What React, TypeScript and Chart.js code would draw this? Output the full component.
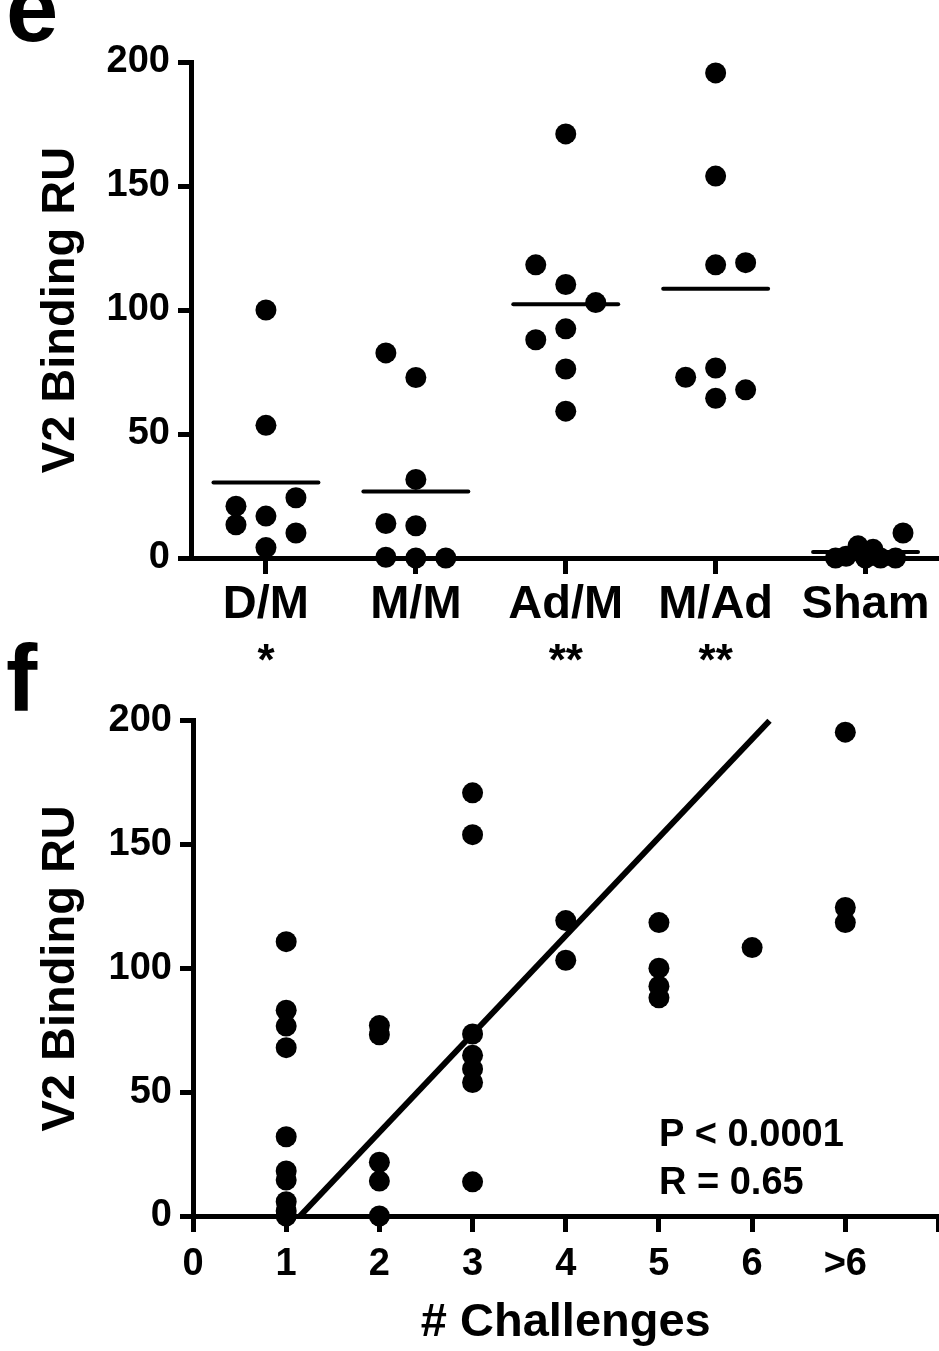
import React, { useEffect, useRef } from "react";
import { Chart, registerables } from "chart.js";

Chart.register(...registerables);

const FONT = "'Liberation Sans', Arial, Helvetica, sans-serif";
const INK = "#000000";

// ---------- panel e : V2 binding by immunisation group ----------
const E_CATEGORIES = ["D/M", "M/M", "Ad/M", "M/Ad", "Sham"];
const E_SIGNIFICANCE = ["*", "", "**", "**", ""];
const E_DM = [100, 53.5, 24.3, 20.9, 16.9, 13.4, 10.1, 4.2];
const E_MM = [82.7, 72.8, 31.7, 13.9, 13.0, 0.3, 0, 0];
const E_ADM = [171, 118.2, 110.3, 103, 92.4, 88, 76.2, 59.2];
const E_MAD = [195.6, 154, 118.2, 119.1, 76.6, 72.9, 67.8, 64.4];
const E_SHAM = [10.1, 4.9, 3.5, 0.7, 0, 0, 0, 0];
// horizontal scatter of the dots inside each column (category units)
const E_DM_SPREAD = [0, 0, 0.2, -0.2, 0, -0.2, 0.2, 0];
const E_MM_SPREAD = [-0.2, 0, 0, -0.2, 0, -0.2, 0, 0.2];
const E_ADM_SPREAD = [0, -0.2, 0, 0.2, 0, -0.2, 0, 0];
const E_MAD_SPREAD = [0, 0, 0, 0.2, 0, -0.2, 0.2, 0];
const E_SHAM_SPREAD = [0.25, -0.05, 0.05, -0.13, -0.2, 0, 0.1, 0.2];
const Y_TICK_STEP = 50;
const Y_MAX = 200;

// ---------- panel f : V2 binding vs number of challenges ----------
const F_TICK_LABELS = ["0", "1", "2", "3", "4", "5", "6", ">6", ""];
const F_CHALLENGES = [1, 2, 3, 4, 5, 6, 7];
const F_C1 = [110.8, 83.1, 76.7, 68, 32, 18.2, 14.5, 5.8, 2, 0];
const F_C2 = [76.9, 73.2, 21.7, 14.1, 0];
const F_C3 = [170.9, 154, 73.5, 64.9, 59.4, 53.9, 13.8];
const F_C4 = [119.3, 103.3];
const F_C5 = [118.5, 100.1, 92.8, 88.1];
const F_C6 = [108.4];
const F_C7 = [195.4, 124.6, 118.5];
const F_FIT_SLOPE = 39.7;
const F_FIT_INTERCEPT = -45.6;
const F_STATS = ["P < 0.0001", "R = 0.65"];
const F_STATS_X = 5;
const F_STATS_Y = [32.5, 13.3];

const tickFont = { family: FONT, size: 38, weight: "bold" as const };
const catFont = { family: FONT, size: 47, weight: "bold" as const };
const titleFont = { family: FONT, size: 47, weight: "bold" as const };

const gridOpts = (len: number) => ({
  display: true,
  drawOnChartArea: false,
  drawTicks: true,
  tickLength: len,
  lineWidth: 5,
  tickWidth: 5,
  color: INK,
  tickColor: INK,
});
const borderOpts = { display: true, width: 5, color: INK };

const dotStyle = {
  pointRadius: 10.5,
  pointHoverRadius: 10.5,
  backgroundColor: INK,
  borderColor: INK,
  borderWidth: 0,
  showLine: false,
  clip: false as const,
};

function yAxis(width: number) {
  return {
    type: "linear" as const,
    min: 0,
    max: Y_MAX,
    afterFit: (s: any) => {
      s.width = width;
    },
    ticks: { stepSize: Y_TICK_STEP, font: tickFont, color: INK, padding: 8 },
    title: {
      display: true,
      text: "V2 Binding RU",
      font: titleFont,
      color: INK,
      padding: { top: 33, bottom: 0 },
    },
    grid: gridOpts(13),
    border: borderOpts,
  };
}

const starsPlugin = {
  id: "stars",
  afterDraw(chart: any) {
    const { ctx } = chart;
    const xs = chart.scales.x;
    ctx.save();
    ctx.fillStyle = INK;
    ctx.font = `bold 44px ${FONT}`;
    ctx.textAlign = "center";
    ctx.textBaseline = "alphabetic";
    E_SIGNIFICANCE.forEach((s, i) => {
      if (!s) return;
      ctx.fillText(s, xs.getPixelForValue(i + 1), chart.chartArea.bottom + 117);
    });
    ctx.restore();
  },
};

const statsPlugin = {
  id: "stats",
  afterDraw(chart: any) {
    const { ctx } = chart;
    const xs = chart.scales.x;
    const ys = chart.scales.y;
    ctx.save();
    ctx.fillStyle = INK;
    ctx.font = `bold 38px ${FONT}`;
    ctx.textAlign = "left";
    ctx.textBaseline = "middle";
    F_STATS.forEach((t, i) => {
      ctx.fillText(t, xs.getPixelForValue(F_STATS_X), ys.getPixelForValue(F_STATS_Y[i]));
    });
    ctx.restore();
  },
};

function buildE(): any {
  const groups = [E_DM, E_MM, E_ADM, E_MAD, E_SHAM];
  const spreads = [E_DM_SPREAD, E_MM_SPREAD, E_ADM_SPREAD, E_MAD_SPREAD, E_SHAM_SPREAD];
  const dots = {
    ...dotStyle,
    data: groups.flatMap((vals, i) => vals.map((v, j) => ({ x: i + 1 + spreads[i][j], y: v }))),
  };
  const means = groups.map((vals, i) => {
    const m = vals.reduce((a, b) => a + b, 0) / vals.length;
    return {
      data: [
        { x: i + 1 - 0.35, y: m },
        { x: i + 1 + 0.35, y: m },
      ],
      showLine: true,
      borderColor: INK,
      borderWidth: 4,
      borderCapStyle: "round",
      pointRadius: 0,
      clip: false,
    };
  });
  return {
    type: "scatter",
    data: { datasets: [dots, ...means] },
    options: {
      animation: false,
      responsive: false,
      events: [],
      layout: { padding: { top: 62, left: 0, right: 0, bottom: 0 } },
      plugins: { legend: { display: false }, tooltip: { enabled: false } },
      scales: {
        x: {
          type: "linear",
          min: 0.5,
          max: E_CATEGORIES.length + 0.5,
          afterBuildTicks: (s: any) => {
            s.ticks = E_CATEGORIES.map((_, i) => ({ value: i + 1 }));
          },
          afterFit: (s: any) => {
            s.height = 132;
          },
          ticks: {
            callback: (_v: any, i: number) => E_CATEGORIES[i],
            font: catFont,
            color: INK,
            padding: 3,
            maxRotation: 0,
            autoSkip: false,
          },
          grid: gridOpts(16),
          border: borderOpts,
        },
        y: yAxis(191),
      },
    },
    plugins: [starsPlugin],
  };
}

function buildF(): any {
  const groups = [F_C1, F_C2, F_C3, F_C4, F_C5, F_C6, F_C7];
  const dots = {
    ...dotStyle,
    data: groups.flatMap((vals, i) => vals.map((v) => ({ x: F_CHALLENGES[i], y: v }))),
  };
  const xStart = (0 - F_FIT_INTERCEPT) / F_FIT_SLOPE;
  const xEnd = (Y_MAX - F_FIT_INTERCEPT) / F_FIT_SLOPE;
  const fit = {
    data: [
      { x: xStart, y: F_FIT_SLOPE * xStart + F_FIT_INTERCEPT },
      { x: xEnd, y: F_FIT_SLOPE * xEnd + F_FIT_INTERCEPT },
    ],
    showLine: true,
    borderColor: INK,
    borderWidth: 6,
    pointRadius: 0,
    clip: false,
  };
  return {
    type: "scatter",
    data: { datasets: [dots, fit] },
    options: {
      animation: false,
      responsive: false,
      events: [],
      layout: { padding: { top: 28, left: 0, right: 0, bottom: 0 } },
      plugins: { legend: { display: false }, tooltip: { enabled: false } },
      scales: {
        x: {
          type: "linear",
          min: 0,
          max: F_TICK_LABELS.length - 1,
          afterBuildTicks: (s: any) => {
            s.ticks = F_TICK_LABELS.map((_, i) => ({ value: i }));
          },
          afterFit: (s: any) => {
            s.height = 135;
          },
          ticks: {
            callback: (_v: any, i: number) => F_TICK_LABELS[i],
            font: tickFont,
            color: INK,
            padding: 10,
            maxRotation: 0,
            autoSkip: false,
          },
          title: {
            display: true,
            text: "# Challenges",
            font: titleFont,
            color: INK,
            padding: { top: 0, bottom: 0 },
          },
          grid: gridOpts(16),
          border: borderOpts,
        },
        y: yAxis(193),
      },
    },
    plugins: [statsPlugin],
  };
}

export default function App() {
  const eRef = useRef<HTMLCanvasElement>(null);
  const fRef = useRef<HTMLCanvasElement>(null);
  useEffect(() => {
    const e = new Chart(eRef.current!, buildE());
    const f = new Chart(fRef.current!, buildF());
    return () => {
      e.destroy();
      f.destroy();
    };
  }, []);
  const letter = {
    position: "absolute" as const,
    left: 6,
    font: `bold 94px ${FONT}`,
    lineHeight: "94px",
    color: INK,
    margin: 0,
  };
  return (
    <div
      style={{
        position: "absolute",
        left: 0,
        top: 0,
        width: 939,
        height: 1351,
        overflow: "hidden",
        background: "#ffffff",
      }}
    >
      <canvas ref={eRef} width={951} height={690} style={{ position: "absolute", left: 0, top: 0 }} />
      <canvas ref={fRef} width={949} height={661} style={{ position: "absolute", left: 0, top: 690 }} />
      <div style={{ ...letter, top: -38 }}>e</div>
      <div style={{ ...letter, top: 632 }}>f</div>
    </div>
  );
}
